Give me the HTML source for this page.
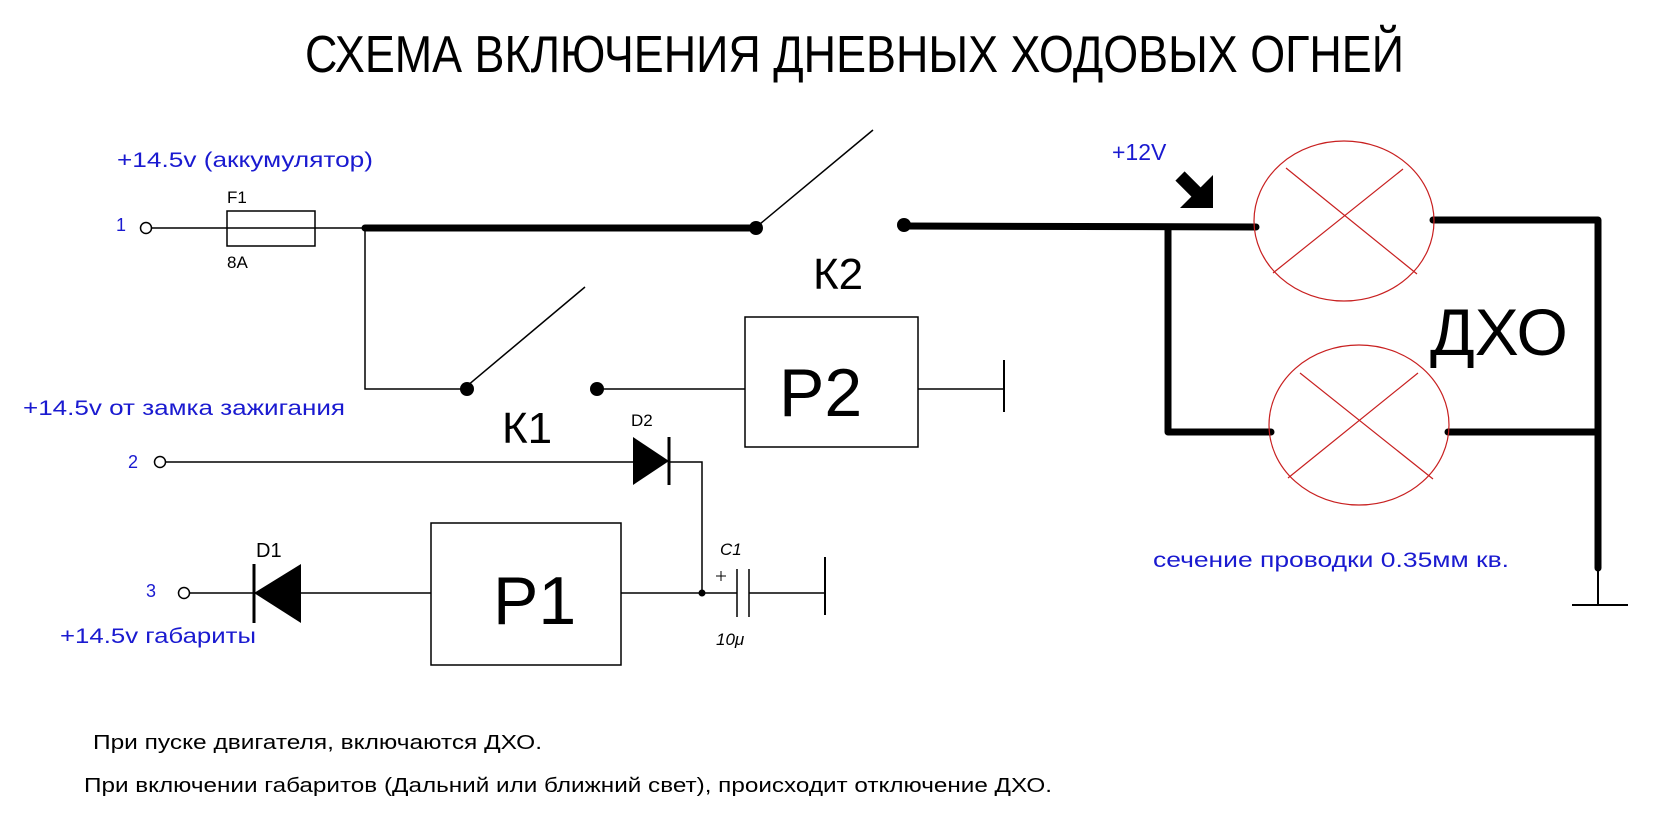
<!DOCTYPE html>
<html><head><meta charset="utf-8"><style>html,body{margin:0;padding:0;background:#fff}svg{display:block}</style></head><body>
<svg width="1658" height="824" viewBox="0 0 1658 824" xmlns="http://www.w3.org/2000/svg" font-family="Liberation Sans, sans-serif">
<rect width="1658" height="824" fill="#fff"/>
<text x="305" y="72" font-size="52" textLength="1099" lengthAdjust="spacingAndGlyphs">СХЕМА ВКЛЮЧЕНИЯ ДНЕВНЫХ ХОДОВЫХ ОГНЕЙ</text>
<g fill="#1a1ad0" font-size="21">
<text x="117" y="167" textLength="256" lengthAdjust="spacingAndGlyphs">+14.5v (аккумулятор)</text>
<text x="23" y="415" textLength="322" lengthAdjust="spacingAndGlyphs">+14.5v от замка зажигания</text>
<text x="60" y="643" textLength="196" lengthAdjust="spacingAndGlyphs">+14.5v габариты</text>
<text x="1112" y="160" font-size="23">+12V</text>
<text x="1153" y="567" textLength="356" lengthAdjust="spacingAndGlyphs">сечение проводки 0.35мм кв.</text>
<text x="116" y="231" font-size="18">1</text>
<text x="128" y="468" font-size="18">2</text>
<text x="146" y="597" font-size="18">3</text>
</g>
<g font-size="17">
<text x="227" y="203">F1</text>
<text x="227" y="268">8A</text>
<text x="631" y="426">D2</text>
<text x="256" y="557" font-size="20">D1</text>
<text x="720" y="555" font-style="italic">C1</text>
<text x="716" y="645" font-style="italic">10μ</text>
</g>
<text x="813" y="289" font-size="44">К2</text>
<text x="502" y="443" font-size="44">К1</text>
<text x="779" y="416" font-size="68">P2</text>
<text x="493" y="624" font-size="68">P1</text>
<text x="1430" y="355" font-size="66">ДХО</text>
<text x="93" y="749" font-size="20" textLength="449" lengthAdjust="spacingAndGlyphs">При пуске двигателя, включаются ДХО.</text>
<text x="84" y="792" font-size="20" textLength="968" lengthAdjust="spacingAndGlyphs">При включении габаритов (Дальний или ближний свет), происходит отключение ДХО.</text>

<g stroke="#000" stroke-width="1.5" fill="none">
<circle cx="146" cy="228" r="5.5"/>
<line x1="151" y1="228" x2="365" y2="228"/>
<rect x="227" y="211" width="88" height="35"/>
<polyline points="365,228 365,389 467,389"/>
<line x1="467" y1="386" x2="585" y2="287"/>
<line x1="760" y1="224" x2="873" y2="130"/>
<line x1="597" y1="389" x2="745" y2="389"/>
<rect x="745" y="317" width="173" height="130"/>
<line x1="918" y1="389" x2="1004" y2="389"/>
<line x1="1004" y1="360" x2="1004" y2="412" stroke-width="2"/>
<circle cx="160" cy="462" r="5.5"/>
<line x1="165" y1="462" x2="633" y2="462"/>
<polyline points="669,462 702,462 702,593"/>
<rect x="431" y="523" width="190" height="142"/>
<circle cx="184" cy="593" r="5.5"/>
<line x1="189" y1="593" x2="431" y2="593"/>
<line x1="621" y1="593" x2="737" y2="593"/>
<line x1="749" y1="593" x2="825" y2="593"/>
<line x1="737" y1="569" x2="737" y2="617"/>
<line x1="749" y1="569" x2="749" y2="617"/>
<line x1="825" y1="557" x2="825" y2="615" stroke-width="2"/>
<line x1="716" y1="576" x2="726" y2="576" stroke-width="1"/>
<line x1="721" y1="571" x2="721" y2="581" stroke-width="1"/>
<line x1="1598" y1="560" x2="1598" y2="605" stroke-width="2"/>
<line x1="1572" y1="605" x2="1628" y2="605" stroke-width="2"/>
</g>
<circle cx="702" cy="593" r="3.5"/>
<polygon points="633,437 669,461 633,485"/>
<line x1="669" y1="437" x2="669" y2="485" stroke="#000" stroke-width="3"/>
<polygon points="301,564 254,593 301,623"/>
<line x1="254" y1="564" x2="254" y2="623" stroke="#000" stroke-width="3"/>

<g stroke="#000" stroke-width="7" fill="none" stroke-linecap="round" stroke-linejoin="round">
<line x1="365" y1="228" x2="756" y2="228"/>
<line x1="904" y1="226" x2="1256" y2="227"/>
<polyline points="1168,227 1168,432 1271,432"/>
<polyline points="1433,220 1598,220 1598,568"/>
<line x1="1448" y1="432" x2="1598" y2="432"/>
</g>
<circle cx="756" cy="228" r="7"/>
<circle cx="904" cy="225" r="7"/>
<circle cx="467" cy="389" r="7"/>
<circle cx="597" cy="389" r="7"/>
<line x1="1180" y1="176" x2="1202" y2="198" stroke="#000" stroke-width="13"/>
<polygon points="1213,175 1213,208 1180,208"/>

<g stroke="#c82020" stroke-width="1.2" fill="none">
<ellipse cx="1344" cy="221" rx="90" ry="80"/>
<line x1="1286" y1="168" x2="1417" y2="274"/>
<line x1="1403" y1="169" x2="1273" y2="273"/>
<ellipse cx="1359" cy="425" rx="90" ry="80"/>
<line x1="1300" y1="373" x2="1433" y2="479"/>
<line x1="1418" y1="373" x2="1288" y2="478"/>
</g>
</svg>
</body></html>
